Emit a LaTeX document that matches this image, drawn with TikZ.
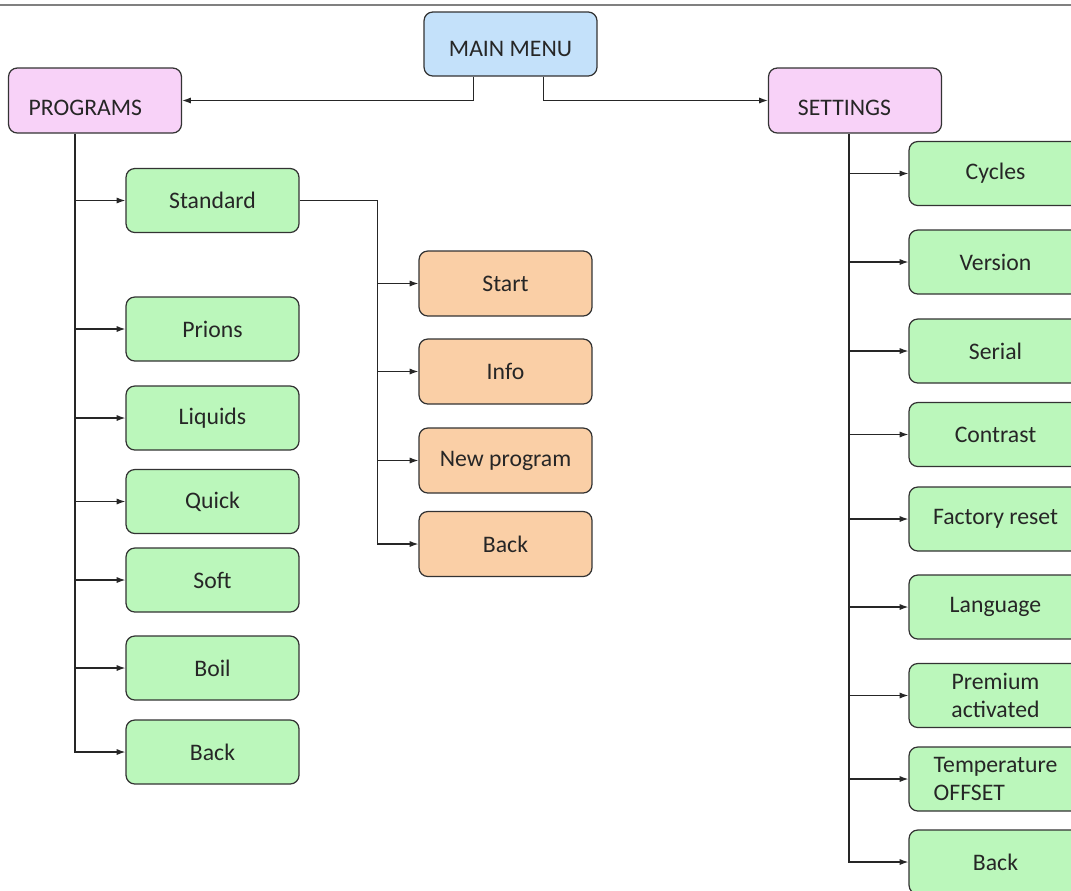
\documentclass[tikz,border=0pt]{standalone}
\usepackage{fontspec}
\setmainfont{Carlito}
\usetikzlibrary{arrows.meta}
\definecolor{menublue}{RGB}{196,225,250}
\definecolor{headpink}{RGB}{248,210,248}
\definecolor{itemgreen}{RGB}{187,247,187}
\definecolor{suborange}{RGB}{250,207,166}

\begin{document}
\begin{tikzpicture}[x=0.02cm, y=-0.02cm,
    box/.style={draw=black!80, line width=0.7pt, rounded corners=5pt,
      minimum width=3.46cm, minimum height=1.28cm, inner sep=2pt,
      text=black!85, font=\fontsize{13.5}{16}\selectfont},
    mainbox/.style={box, fill=menublue, text height=14pt, text depth=0pt},
    headbox/.style={box, fill=headpink, minimum height=1.3cm,
      text height=17pt, text depth=0pt},
    itembox/.style={box, fill=itemgreen},
    subbox/.style={box, fill=suborange, minimum height=1.3cm},
    link/.style={-{Latex[length=5pt,width=3.5pt]}, line width=0.7pt, black!85}]
  \useasboundingbox (0,0) rectangle (1071,890);
  \clip (0,0) rectangle (1071,890);
  % page edge
  \draw[gray, line width=0.6pt] (0,5) -- (1071,5);

  % top level
  \node[mainbox] (main) at (510.5,44) {MAIN MENU};
  \node[headbox] (prog) at (95,100.5) {PROGRAMS\hspace*{11pt}};
  \node[headbox] (set) at (855,100.5) {SETTINGS\hspace*{12pt}};

  % programs
  \node[itembox] (std) at (212.5,200.5) {Standard};
  \node[itembox] (pri) at (212.5,329) {Prions};
  \node[itembox] (liq) at (212.5,418) {Liquids};
  \node[itembox] (qui) at (212.5,501.5) {Quick};
  \node[itembox] (sof) at (212.5,580) {Soft};
  \node[itembox] (boi) at (212.5,668) {Boil};
  \node[itembox] (pbk) at (212.5,752) {Back};

  % standard submenu
  \node[subbox] (sta) at (505.5,283.5) {Start};
  \node[subbox] (inf) at (505.5,371.5) {Info};
  \node[subbox] (npr) at (505.5,460.5) {New program};
  \node[subbox] (obk) at (505.5,544) {Back};

  % settings
  \node[itembox] (cyc) at (995.5,173.5) {Cycles};
  \node[itembox] (ver) at (995.5,262) {Version};
  \node[itembox] (ser) at (995.5,351) {Serial};
  \node[itembox] (con) at (995.5,434.5) {Contrast};
  \node[itembox] (fac) at (995.5,519) {Factory reset};
  \node[itembox] (lan) at (995.5,607) {Language};
  \node[itembox, align=center] (pre) at (995.5,695.5) {Premium\\activated};
  \node[itembox, align=left] (tem) at (995.5,779) {Temperature\\OFFSET};
  \node[itembox] (sbk) at (995.5,862) {Back};

  % connectors
  \draw[link] ([xshift=-0.74cm]main.south) |- (prog.east);
  \draw[link] ([xshift=0.66cm]main.south) |- (set.west);

  \coordinate (ptrunk) at ([xshift=-0.4cm]prog.south);
  \draw[link] (ptrunk) |- (pbk.west);
  \foreach \n in {std,pri,liq,qui,sof,boi}
    \draw[link] (ptrunk |- \n.west) -- (\n.west);

  \coordinate (strunk) at ([xshift=1.56cm]std.east);
  \draw[link] (std.east) -- (strunk) |- (obk.west);
  \foreach \n in {sta,inf,npr}
    \draw[link] (strunk |- \n.west) -- (\n.west);

  \coordinate (rtrunk) at ([xshift=-0.12cm]set.south);
  \draw[link] (rtrunk) |- (sbk.west);
  \foreach \n in {cyc,ver,ser,con,fac,lan,pre,tem}
    \draw[link] (rtrunk |- \n.west) -- (\n.west);
\end{tikzpicture}
\end{document}
